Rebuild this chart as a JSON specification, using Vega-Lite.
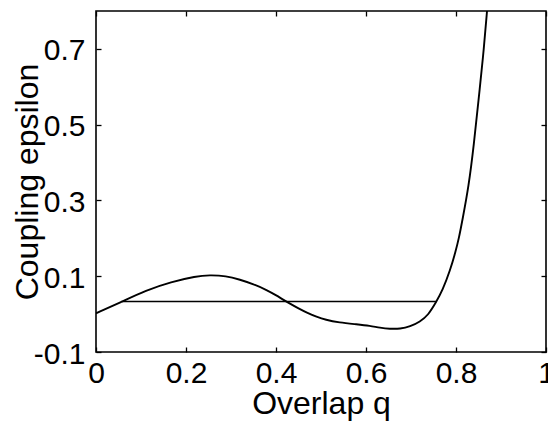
{
  "$schema": "https://vega.github.io/schema/vega-lite/v6.json",
  "width": 450,
  "height": 341,
  "autosize": "none",
  "padding": {"left": 96, "top": 11, "right": 2, "bottom": 69},
  "background": "white",
  "config": {
    "view": {"stroke": "black", "strokeWidth": 1.6},
    "font": "Liberation Sans",
    "axis": {
      "grid": false,
      "domain": false,
      "tickColor": "black",
      "tickSize": -5,
      "tickWidth": 1.3,
      "labelFont": "Liberation Sans",
      "labelFontSize": 30,
      "labelColor": "black",
      "titleFont": "Liberation Sans",
      "titleFontSize": 32,
      "titleFontWeight": "normal",
      "titleColor": "black"
    }
  },
  "layer": [
    {
      "data": {
        "values": [
          {"q": 0.0, "e": 0.002},
          {"q": 0.056, "e": 0.032},
          {"q": 0.111, "e": 0.063},
          {"q": 0.167, "e": 0.085},
          {"q": 0.222, "e": 0.1},
          {"q": 0.252, "e": 0.103},
          {"q": 0.289, "e": 0.101},
          {"q": 0.32, "e": 0.091},
          {"q": 0.35, "e": 0.079},
          {"q": 0.379, "e": 0.064},
          {"q": 0.4, "e": 0.05},
          {"q": 0.424, "e": 0.032},
          {"q": 0.45, "e": 0.015},
          {"q": 0.47, "e": 0.003},
          {"q": 0.49, "e": -0.007},
          {"q": 0.51, "e": -0.015},
          {"q": 0.54, "e": -0.022},
          {"q": 0.58, "e": -0.027},
          {"q": 0.609, "e": -0.031},
          {"q": 0.631, "e": -0.036},
          {"q": 0.653, "e": -0.039},
          {"q": 0.676, "e": -0.039},
          {"q": 0.698, "e": -0.033},
          {"q": 0.72, "e": -0.02},
          {"q": 0.738, "e": -0.003},
          {"q": 0.755, "e": 0.03},
          {"q": 0.77, "e": 0.062},
          {"q": 0.787, "e": 0.116},
          {"q": 0.798, "e": 0.16},
          {"q": 0.807, "e": 0.203},
          {"q": 0.814, "e": 0.247},
          {"q": 0.828, "e": 0.335},
          {"q": 0.84, "e": 0.45},
          {"q": 0.85, "e": 0.565},
          {"q": 0.86, "e": 0.675},
          {"q": 0.869, "e": 0.8},
          {"q": 0.873, "e": 0.86}
        ]
      },
      "mark": {"type": "line", "color": "black", "strokeWidth": 1.9, "interpolate": "basis", "clip": true},
      "encoding": {
        "x": {
          "field": "q",
          "type": "quantitative",
          "scale": {"domain": [0, 1], "nice": false, "zero": false},
          "axis": {
            "values": [0, 0.2, 0.4, 0.6, 0.8, 1],
            "labelExpr": "'' + datum.value",
            "labelBaseline": "alphabetic",
            "labelPadding": 35,
            "labelFlush": false,
            "labelOverlap": false,
            "title": "Overlap q",
            "titleBaseline": "alphabetic",
            "titleY": 61
          }
        },
        "y": {
          "field": "e",
          "type": "quantitative",
          "scale": {"domain": [-0.1, 0.8], "nice": false, "zero": false},
          "axis": {
            "values": [-0.1, 0.1, 0.3, 0.5, 0.7],
            "labelExpr": "'' + datum.value",
            "labelBaseline": "alphabetic",
            "labelOffset": 11,
            "labelPadding": 16,
            "labelFlush": false,
            "labelOverlap": false,
            "title": "Coupling epsilon",
            "titleBaseline": "alphabetic",
            "titleAngle": -90,
            "titleX": -59
          }
        }
      }
    },
    {
      "data": {"values": [{"q1": 0.057, "q2": 0.757, "e": 0.033}]},
      "mark": {"type": "rule", "color": "black", "strokeWidth": 1.5},
      "encoding": {
        "x": {
          "field": "q1",
          "type": "quantitative",
          "axis": {"orient": "top", "values": [0, 0.2, 0.4, 0.6, 0.8, 1], "labels": false, "title": null}
        },
        "x2": {"field": "q2"},
        "y": {
          "field": "e",
          "type": "quantitative",
          "axis": {"orient": "right", "values": [-0.1, 0.1, 0.3, 0.5, 0.7], "labels": false, "title": null}
        }
      }
    }
  ],
  "resolve": {"axis": {"x": "independent", "y": "independent"}}
}
